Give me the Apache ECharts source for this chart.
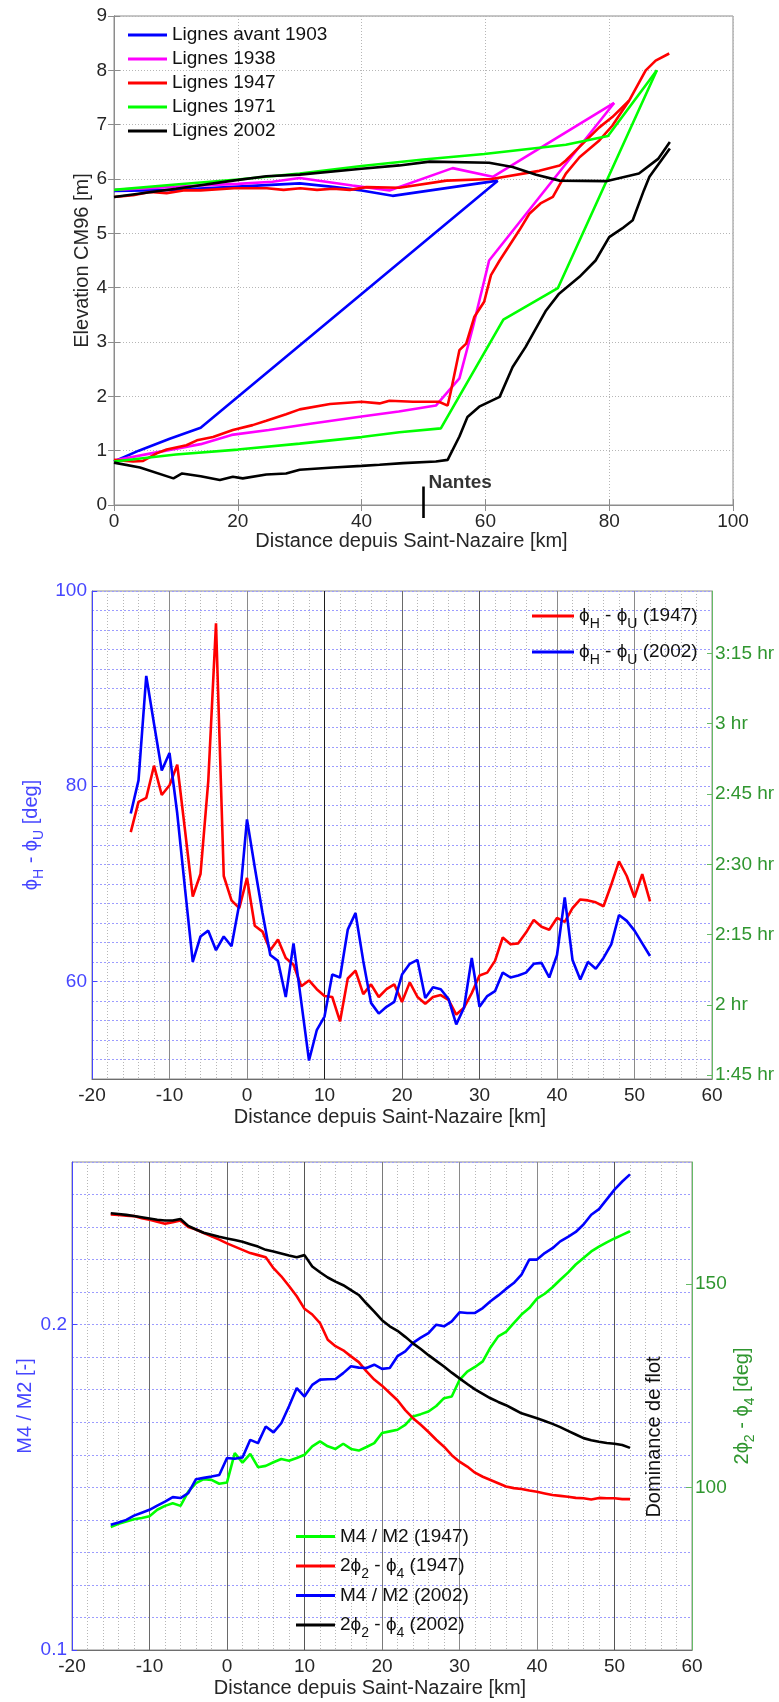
<!DOCTYPE html>
<html>
<head>
<meta charset="utf-8">
<script src="https://cdn.jsdelivr.net/npm/echarts@6.0.0/dist/echarts.min.js"></script>
<style>
  html, body { margin: 0; padding: 0; background: #ffffff; }
  #chart { width: 779px; height: 1702px; }
</style>
</head>
<body>
<div id="chart"></div>
<script>
// ---------- Panel 1: water lines along the estuary (km, m CM96) ----------
const km1903Low = [0, 4, 9, 14, 62];
const elev1903Low = [0.80, 1.00, 1.22, 1.42, 5.97];
const km1903High = [0, 10, 20, 30, 35, 40, 45, 62];
const elev1903High = [5.78, 5.80, 5.86, 5.92, 5.86, 5.79, 5.69, 5.97];

const km1938Low = [0, 6, 14, 19, 25, 32, 40, 46, 52, 55.8, 58, 60.6, 80.8];
const elev1938Low = [0.82, 0.95, 1.12, 1.29, 1.38, 1.50, 1.63, 1.72, 1.83, 2.33, 3.28, 4.50, 7.40];
const km1938High = [0, 14, 20, 25.6, 30, 38.5, 44.5, 54.7, 61.2, 80.8];
const elev1938High = [5.80, 5.88, 5.91, 5.95, 6.02, 5.88, 5.79, 6.20, 6.04, 7.40];

const km1947Low = [0, 3.1, 4.7, 6.9, 8.5, 11.7, 13.4, 16, 19.2, 22.4, 24.6, 27.8, 30, 34.9, 40, 42.9, 44.5, 48.3, 52.5, 53.9, 54.4, 55.8, 56.9, 58.2, 59.8, 60.9, 62.3, 65.5, 67.1, 68.9, 70.9, 73, 75.2, 78.4, 80.5, 83.2];
const elev1947Low = [0.83, 0.80, 0.81, 0.95, 1.02, 1.10, 1.19, 1.25, 1.38, 1.47, 1.55, 1.67, 1.76, 1.86, 1.90, 1.87, 1.92, 1.90, 1.90, 1.83, 2.08, 2.85, 2.97, 3.46, 3.74, 4.23, 4.50, 5.06, 5.36, 5.55, 5.67, 6.10, 6.40, 6.71, 6.98, 7.44];
const km1947High = [0, 3.1, 5.8, 8.5, 11.2, 14, 19.4, 24.7, 27.4, 30.1, 32.8, 35.4, 38.1, 40.8, 46.1, 53.7, 61, 68.7, 72, 73, 75.2, 78.4, 80.5, 83.2, 85.9, 87.5, 89.7];
const elev1947High = [5.67, 5.70, 5.76, 5.74, 5.79, 5.79, 5.83, 5.83, 5.80, 5.83, 5.80, 5.82, 5.80, 5.85, 5.84, 5.97, 6.00, 6.15, 6.25, 6.34, 6.59, 6.95, 7.14, 7.44, 8.00, 8.18, 8.31];

const km1971Low = [0, 10, 20, 30, 40, 46.1, 52.8, 62.9, 71.7, 87.7];
const elev1971Low = [0.80, 0.93, 1.02, 1.13, 1.25, 1.34, 1.41, 3.41, 3.99, 8.00];
const km1971High = [0, 10, 20, 30, 40, 50, 59.8, 73, 79.8, 87.7];
const elev1971High = [5.80, 5.90, 5.99, 6.10, 6.24, 6.36, 6.46, 6.63, 6.79, 8.00];

const km2002Low = [0, 4.2, 9.6, 11, 14, 17.1, 19.2, 20.8, 24.6, 27.8, 30, 35.4, 40, 42.9, 46.7, 52, 53.9, 55.8, 57.1, 59, 62.3, 64.4, 66.5, 69.8, 71.9, 75.2, 77.8, 80, 82.1, 83.8, 85.6, 86.5, 89.8];
const elev2002Low = [0.78, 0.69, 0.49, 0.58, 0.53, 0.46, 0.52, 0.49, 0.56, 0.58, 0.65, 0.69, 0.72, 0.74, 0.77, 0.80, 0.83, 1.26, 1.62, 1.81, 1.99, 2.54, 2.91, 3.58, 3.89, 4.20, 4.50, 4.93, 5.09, 5.24, 5.79, 6.04, 6.56];
const km2002High = [0, 10, 19.2, 24.6, 30, 40, 46.1, 51, 60.6, 64.4, 68.2, 72, 79.5, 84.8, 87.9, 89.8];
const elev2002High = [5.67, 5.82, 5.97, 6.05, 6.08, 6.19, 6.25, 6.32, 6.30, 6.22, 6.08, 5.97, 5.96, 6.10, 6.37, 6.68];

const nantesKm = 50;
const nantesTick = [0.34, -0.24];

// ---------- Panel 2: phase lag between elevation and velocity (deg) ----------
const kmPhase = [-15, -14, -13, -12, -11, -10, -9, -8, -7, -6, -5, -4, -3, -2, -1, 0, 1, 2, 3, 4, 5, 6, 7, 8, 9, 10, 11, 12, 13, 14, 15, 16, 17, 18, 19, 20, 21, 22, 23, 24, 25, 26, 27, 28, 29, 30, 31, 32, 33, 34, 35, 36, 37, 38, 39, 40, 41, 42, 43, 44, 45, 46, 47, 48, 49, 50, 51, 52];
const lag1947 = [75.3, 78.4, 78.8, 82.1, 79.1, 80.1, 82.2, 75.5, 68.7, 71.0, 80.5, 96.7, 70.8, 68.3, 67.5, 70.6, 65.7, 65.1, 63.2, 64.3, 62.4, 61.7, 59.5, 60.1, 59.2, 58.5, 58.4, 55.9, 60.3, 61.1, 58.7, 59.7, 58.4, 59.2, 59.7, 57.9, 59.9, 58.4, 57.7, 58.4, 58.6, 58.1, 56.6, 57.3, 58.8, 60.6, 60.9, 62.1, 64.5, 63.8, 63.9, 65.0, 66.3, 65.6, 65.3, 66.5, 66.1, 67.5, 68.4, 68.3, 68.1, 67.7, 69.9, 72.3, 70.8, 68.6, 71.0, 68.2];
const lag2002 = [77.2, 80.6, 91.3, 86.4, 81.6, 83.4, 77.2, 69.5, 62.0, 64.6, 65.2, 63.2, 64.6, 63.6, 67.9, 76.6, 71.7, 67.0, 62.7, 62.1, 58.4, 63.9, 57.9, 51.9, 55.0, 56.4, 60.7, 60.4, 65.3, 67.0, 62.1, 57.8, 56.7, 57.4, 57.9, 60.7, 61.8, 62.2, 58.3, 59.4, 59.2, 58.2, 55.6, 57.3, 62.4, 57.4, 58.5, 59.0, 60.9, 60.4, 60.6, 60.9, 61.8, 61.9, 60.4, 62.7, 68.6, 62.2, 60.2, 62.0, 61.3, 62.4, 63.8, 66.8, 66.2, 65.2, 63.9, 62.6];
// right-hand time scale (minutes of lag), one degree = 750/360 min
const MIN_PER_DEG = 750 / 360;
const lagTimeTicks = [105, 120, 135, 150, 165, 180, 195];

// ---------- Panel 3: tidal asymmetry ----------
const kmTide = [-15, -14, -13, -12, -11, -10, -9, -8, -7, -6, -5, -4, -3, -2, -1, 0, 1, 2, 3, 4, 5, 6, 7, 8, 9, 10, 11, 12, 13, 14, 15, 16, 17, 18, 19, 20, 21, 22, 23, 24, 25, 26, 27, 28, 29, 30, 31, 32, 33, 34, 35, 36, 37, 38, 39, 40, 41, 42, 43, 44, 45, 46, 47, 48, 49, 50, 51, 52];
const ratio1947 = [0.1378, 0.1388, 0.1395, 0.1402, 0.1406, 0.1411, 0.1431, 0.1443, 0.1451, 0.1443, 0.1487, 0.1513, 0.1525, 0.1523, 0.1511, 0.1515, 0.1605, 0.1576, 0.1603, 0.1562, 0.1566, 0.1577, 0.1587, 0.1582, 0.1590, 0.1600, 0.1626, 0.1641, 0.1626, 0.1618, 0.1634, 0.1618, 0.1613, 0.1624, 0.1636, 0.1667, 0.1672, 0.1677, 0.1692, 0.1718, 0.1725, 0.1733, 0.1750, 0.1774, 0.1779, 0.1830, 0.1856, 0.1870, 0.1887, 0.1930, 0.1964, 0.1978, 0.2005, 0.2031, 0.2051, 0.2080, 0.2095, 0.2115, 0.2138, 0.2160, 0.2185, 0.2205, 0.2225, 0.2240, 0.2253, 0.2265, 0.2276, 0.2287];
const ratio2002 = [0.1385, 0.1392, 0.1400, 0.1413, 0.1422, 0.1431, 0.1444, 0.1456, 0.1470, 0.1467, 0.1482, 0.1525, 0.1529, 0.1533, 0.1538, 0.1590, 0.1588, 0.1592, 0.1646, 0.1636, 0.1687, 0.1669, 0.1697, 0.1749, 0.1805, 0.1779, 0.1815, 0.1831, 0.1832, 0.1833, 0.1851, 0.1872, 0.1868, 0.1867, 0.1877, 0.1864, 0.1867, 0.1903, 0.1918, 0.1944, 0.1960, 0.1974, 0.2000, 0.1995, 0.2010, 0.2038, 0.2036, 0.2036, 0.2051, 0.2072, 0.2090, 0.2110, 0.2128, 0.2154, 0.2200, 0.2200, 0.2220, 0.2235, 0.2256, 0.2270, 0.2285, 0.2308, 0.2338, 0.2355, 0.2385, 0.2415, 0.2440, 0.2462];
const phaseDiff1947 = [167.1, 167.0, 166.8, 166.7, 166.2, 165.8, 165.3, 164.8, 165.2, 165.6, 164.0, 163.4, 162.5, 161.7, 160.9, 160.0, 159.2, 158.4, 157.6, 157.1, 156.6, 153.9, 151.9, 149.5, 147.0, 143.9, 142.5, 140.4, 136.3, 134.7, 133.7, 132.2, 130.8, 128.5, 126.5, 125.0, 123.2, 121.4, 119.0, 117.0, 115.4, 113.6, 111.7, 110.0, 107.9, 106.3, 105.1, 103.6, 102.6, 101.8, 101.0, 100.2, 99.8, 99.6, 99.2, 98.9, 98.5, 98.1, 97.9, 97.7, 97.4, 97.3, 97.0, 97.4, 97.3, 97.3, 97.1, 97.1];
const phaseDiff2002 = [167.4, 167.2, 167.0, 166.7, 166.4, 166.1, 165.8, 165.6, 165.6, 166.0, 164.3, 163.4, 162.6, 162.1, 161.6, 161.2, 160.8, 160.4, 159.8, 159.2, 158.4, 158.0, 157.5, 157.0, 156.6, 157.1, 154.3, 152.9, 151.6, 150.6, 149.7, 148.5, 147.3, 145.2, 143.2, 141.1, 139.6, 138.5, 137.0, 135.4, 134.0, 132.5, 131.1, 129.7, 128.2, 126.8, 125.4, 124.1, 123.0, 121.9, 121.0, 120.2, 119.2, 118.2, 117.6, 117.0, 116.3, 115.6, 114.8, 113.9, 113.0, 112.1, 111.6, 111.2, 110.9, 110.7, 110.4, 109.7];

// ---------- styling helpers ----------
const FONT = "'Liberation Sans', Arial, 'DejaVu Sans', sans-serif";
const INK = '#262626';
const BOX = '#8c8c8c';
const AXIS_BLUE = '#4646ff';
const AXIS_GREEN = '#2f962f';
const LINE_W = 2.6;
const SUB = { fontSize: 14, lineHeight: 13, padding: [16, 0, 0, 0], fontFamily: FONT };

function zip(xs, ys) { return xs.map((x, i) => [x, ys[i]]); }
function sub(color) { return Object.assign({}, SUB, { color: color }); }
function richName(text) {
  // "ϕH" -> ϕ with subscript H, "2ϕ2" -> 2ϕ with subscript 2
  return text.replace(/ϕ([A-Z0-9])/g, 'ϕ{s|$1}');
}
function hourLabel(m) {
  const h = Math.floor(m / 60 + 1e-6);
  const mm = Math.round(m - h * 60);
  return mm === 0 ? h + ' hr' : h + ':' + String(mm).padStart(2, '0') + ' hr';
}
function lineSeries(name, x, y, xi, yi, color, z) {
  return {
    type: 'line', name: name, xAxisIndex: xi, yAxisIndex: yi,
    data: zip(x, y), color: color, symbol: 'none', showSymbol: false,
    lineStyle: { color: color, width: LINE_W }, z: z || 2,
    animation: false, emphasis: { disabled: true }
  };
}

const tickLabel = { color: INK, fontSize: 19, fontFamily: FONT };
const xTitle = { color: INK, fontSize: 20, fontFamily: FONT, padding: [0, 24, 0, 0] };
const dottedGray = { color: '#b6b6b6', type: [1, 2], width: 1 };
const dottedBlue = { color: '#9c9cff', type: [2, 2], width: 1 };

const phaseNames = ['ϕH - ϕU (1947)', 'ϕH - ϕU (2002)'];
const tideNames = ['M4 / M2 (1947)', '2ϕ2 - ϕ4 (1947)', 'M4 / M2 (2002)', '2ϕ2 - ϕ4 (2002)'];

function estuaryX(gi, lineColors) {
  return {
    gridIndex: gi, type: 'value', min: -20, max: 60, interval: 10,
    axisLine: { show: true, lineStyle: { color: '#6e6e6e' } },
    axisTick: { show: false },
    axisLabel: Object.assign({ margin: 7 }, tickLabel),
    splitLine: { show: true, lineStyle: { color: lineColors, width: 1 } },
    minorTick: { show: false, splitNumber: 5 },
    minorSplitLine: { show: true, lineStyle: dottedGray },
    name: 'Distance depuis Saint-Nazaire [km]', nameLocation: 'middle', nameGap: 28,
    nameMoveOverlap: false,
    nameTextStyle: xTitle
  };
}

const option = {
  backgroundColor: '#ffffff',
  animation: false,
  textStyle: { fontFamily: FONT },
  grid: [
    { left: 114, top: 16, width: 619, height: 489, show: true, borderColor: BOX, borderWidth: 1 },
    { left: 92, top: 591, width: 620, height: 488, show: true, borderColor: BOX, borderWidth: 1 },
    { left: 72, top: 1162, width: 620, height: 488, show: true, borderColor: BOX, borderWidth: 1 }
  ],
  legend: [
    {
      data: ['Lignes avant 1903', 'Lignes 1938', 'Lignes 1947', 'Lignes 1971', 'Lignes 2002'],
      orient: 'vertical', left: 128, top: 25, padding: 0, itemGap: 4,
      icon: 'rect', itemWidth: 39, itemHeight: 3, selectedMode: false,
      textStyle: { fontSize: 19, color: '#111', lineHeight: 20, fontFamily: FONT }
    },
    {
      data: phaseNames,
      orient: 'vertical', left: 532, top: 601, padding: 0, itemGap: 6,
      icon: 'rect', itemWidth: 42, itemHeight: 3, selectedMode: false,
      formatter: richName,
      textStyle: { fontSize: 19, color: '#111', lineHeight: 29, fontFamily: FONT, rich: { s: sub('#111') } }
    },
    {
      data: tideNames,
      orient: 'vertical', left: 296, top: 1522, padding: 0, itemGap: 0,
      icon: 'rect', itemWidth: 39, itemHeight: 3, selectedMode: false,
      formatter: richName,
      textStyle: { fontSize: 19, color: '#111', lineHeight: 29, fontFamily: FONT, rich: { s: sub('#111') } }
    }
  ],
  xAxis: [
    {
      gridIndex: 0, type: 'value', min: 0, max: 100, interval: 20, position: 'bottom',
      axisLine: { show: true, lineStyle: { color: BOX } },
      axisTick: { show: true, inside: true, length: 6, lineStyle: { color: BOX } },
      axisLabel: Object.assign({ margin: 7 }, tickLabel),
      splitLine: { show: true, lineStyle: dottedGray },
      name: 'Distance depuis Saint-Nazaire [km]', nameLocation: 'middle', nameGap: 26,
      nameMoveOverlap: false,
      nameTextStyle: xTitle
    },
    estuaryX(1, ['#8a8a8a', '#8a8a8a', '#8a8a8a', '#1e1e1e', '#6a6a6a', '#555555', '#8a8a8a', '#8a8a8a', '#8a8a8a']),
    estuaryX(2, ['#8a8a8a', '#6a6a6a', '#6a6a6a', '#555555', '#7a7a7a', '#8a8a8a', '#8a8a8a', '#555555', '#8a8a8a']),
    {
      gridIndex: 0, type: 'value', min: 0, max: 100, interval: 20, position: 'top',
      axisLine: { show: true, lineStyle: { color: BOX } },
      axisTick: { show: true, inside: true, length: 6, lineStyle: { color: BOX } },
      axisLabel: { show: false }, splitLine: { show: false }
    }
  ],
  yAxis: [
    {
      gridIndex: 0, type: 'value', min: 0, max: 9, interval: 1, position: 'left',
      axisLine: { show: true, lineStyle: { color: BOX } },
      axisTick: { show: true, inside: true, length: 6, lineStyle: { color: BOX } },
      axisLabel: Object.assign({ margin: 7 }, tickLabel),
      splitLine: { show: true, lineStyle: dottedGray },
      name: 'Elevation CM96 [m]', nameLocation: 'middle', nameRotate: 90, nameGap: 22,
      nameMoveOverlap: false,
      nameTextStyle: { color: INK, fontSize: 20, lineHeight: 20, fontFamily: FONT }
    },
    {
      // phase panel: fine horizontal grid every 2 degrees
      gridIndex: 1, type: 'value', min: 50, max: 100, interval: 10, position: 'left',
      axisLine: { show: false }, axisTick: { show: false }, axisLabel: { show: false },
      splitLine: { show: true, lineStyle: dottedBlue },
      minorTick: { show: false, splitNumber: 5 },
      minorSplitLine: { show: true, lineStyle: dottedBlue }
    },
    {
      gridIndex: 1, type: 'value', min: 50, max: 100, position: 'left',
      axisLine: { show: true, lineStyle: { color: AXIS_BLUE } },
      axisTick: { show: true, inside: true, length: 5, customValues: [60, 80, 100], lineStyle: { color: AXIS_BLUE } },
      axisLabel: { customValues: [60, 80, 100], color: AXIS_BLUE, fontSize: 19, fontFamily: FONT, margin: 5 },
      splitLine: { show: false },
      name: richName('ϕH - ϕU [deg]'), nameLocation: 'middle', nameRotate: 90, nameGap: 46,
      nameMoveOverlap: false,
      nameTextStyle: { color: AXIS_BLUE, fontSize: 20, lineHeight: 29, fontFamily: FONT, rich: { s: sub(AXIS_BLUE) } }
    },
    {
      gridIndex: 1, type: 'value', min: 50 * MIN_PER_DEG, max: 100 * MIN_PER_DEG, position: 'right',
      axisLine: { show: true, lineStyle: { color: '#66bb66' } },
      axisTick: { show: true, inside: true, length: 5, customValues: lagTimeTicks, lineStyle: { color: '#66bb66' } },
      axisLabel: { customValues: lagTimeTicks, formatter: hourLabel, color: AXIS_GREEN, fontSize: 19, fontFamily: FONT, margin: 3 },
      splitLine: { show: false }
    },
    {
      // tidal panel: fine horizontal grid every 0.01
      gridIndex: 2, type: 'value', min: 0.1, max: 0.25, interval: 0.05, position: 'left',
      axisLine: { show: false }, axisTick: { show: false }, axisLabel: { show: false },
      splitLine: { show: true, lineStyle: dottedBlue },
      minorTick: { show: false, splitNumber: 5 },
      minorSplitLine: { show: true, lineStyle: dottedBlue }
    },
    {
      gridIndex: 2, type: 'value', min: 0.1, max: 0.25, position: 'left',
      axisLine: { show: true, lineStyle: { color: AXIS_BLUE } },
      axisTick: { show: true, inside: true, length: 5, customValues: [0.1, 0.2], lineStyle: { color: AXIS_BLUE } },
      axisLabel: { customValues: [0.1, 0.2], color: AXIS_BLUE, fontSize: 19, fontFamily: FONT, margin: 5 },
      splitLine: { show: false },
      name: 'M4 / M2 [-]', nameLocation: 'middle', nameRotate: 90, nameGap: 37,
      nameMoveOverlap: false,
      nameTextStyle: { color: AXIS_BLUE, fontSize: 20, lineHeight: 20, fontFamily: FONT }
    },
    {
      gridIndex: 2, type: 'value', min: 60, max: 180, position: 'right',
      axisLine: { show: true, lineStyle: { color: '#66bb66' } },
      axisTick: { show: true, inside: true, length: 6, customValues: [100, 150], lineStyle: { color: '#66bb66' } },
      axisLabel: { customValues: [100, 150], color: AXIS_GREEN, fontSize: 19, fontFamily: FONT, margin: 3 },
      splitLine: { show: false },
      name: richName('2ϕ2 - ϕ4 [deg]'), nameLocation: 'middle', nameRotate: 90, nameGap: 36,
      nameMoveOverlap: false,
      nameTextStyle: { color: AXIS_GREEN, fontSize: 20, lineHeight: 29, fontFamily: FONT, rich: { s: sub(AXIS_GREEN) } }
    },
    {
      gridIndex: 0, type: 'value', min: 0, max: 9, interval: 1, position: 'right',
      axisLine: { show: true, lineStyle: { color: BOX } },
      axisTick: { show: true, inside: true, length: 6, lineStyle: { color: BOX } },
      axisLabel: { show: false }, splitLine: { show: false }
    }
  ],
  graphic: [
    {
      type: 'text', x: 654, y: 1437, rotation: Math.PI / 2, z: 10,
      style: { text: 'Dominance de flot', fill: '#111', fontSize: 20, fontFamily: FONT, align: 'center', verticalAlign: 'middle' }
    }
  ],
  series: [
    // water lines: high and low envelope per survey
    lineSeries('Lignes avant 1903', km1903Low, elev1903Low, 0, 0, '#0000ff'),
    lineSeries('Lignes avant 1903', km1903High, elev1903High, 0, 0, '#0000ff'),
    lineSeries('Lignes 1938', km1938Low, elev1938Low, 0, 0, '#ff00ff'),
    lineSeries('Lignes 1938', km1938High, elev1938High, 0, 0, '#ff00ff'),
    lineSeries('Lignes 1947', km1947Low, elev1947Low, 0, 0, '#ff0000'),
    lineSeries('Lignes 1947', km1947High, elev1947High, 0, 0, '#ff0000'),
    lineSeries('Lignes 1971', km1971Low, elev1971Low, 0, 0, '#00ff00'),
    lineSeries('Lignes 1971', km1971High, elev1971High, 0, 0, '#00ff00'),
    lineSeries('Lignes 2002', km2002Low, elev2002Low, 0, 0, '#000000'),
    lineSeries('Lignes 2002', km2002High, elev2002High, 0, 0, '#000000'),
    Object.assign(lineSeries('Nantes', [nantesKm, nantesKm], nantesTick, 0, 0, '#000000'), { clip: false }),
    {
      type: 'scatter', name: 'Nantes label', xAxisIndex: 0, yAxisIndex: 0,
      data: [[nantesKm, nantesTick[0]]], symbolSize: 0, animation: false, clip: false,
      label: { show: true, position: 'right', distance: 5, offset: [0, -4], formatter: 'Nantes',
               color: '#000', fontWeight: 'bold', fontSize: 19, fontFamily: FONT }
    },
    // phase lag
    lineSeries(phaseNames[0], kmPhase, lag1947, 1, 2, '#ff0000', 3),
    lineSeries(phaseNames[1], kmPhase, lag2002, 1, 2, '#0000ff', 4),
    // tidal asymmetry
    lineSeries(tideNames[0], kmTide, ratio1947, 2, 5, '#00ff00', 3),
    lineSeries(tideNames[1], kmTide, phaseDiff1947, 2, 6, '#ff0000', 3),
    lineSeries(tideNames[2], kmTide, ratio2002, 2, 5, '#0000ff', 4),
    lineSeries(tideNames[3], kmTide, phaseDiff2002, 2, 6, '#000000', 4)
  ]
};

const chart = echarts.init(document.getElementById('chart'), null, { renderer: 'canvas', width: 779, height: 1702 });
chart.setOption(option);
</script>
</body>
</html>
